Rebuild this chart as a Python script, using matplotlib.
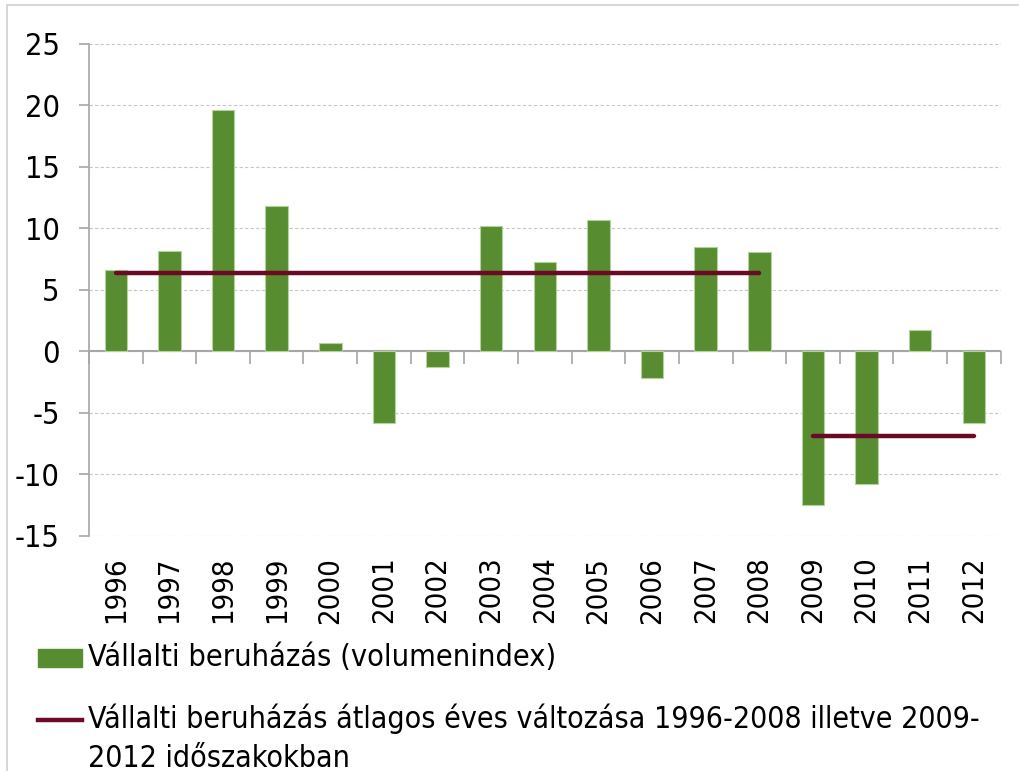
import matplotlib
matplotlib.use('Agg')
import matplotlib.pyplot as plt
from matplotlib.patches import Rectangle
from matplotlib.lines import Line2D
import numpy as np

years = ['1996', '1997', '1998', '1999', '2000', '2001', '2002', '2003', '2004',
         '2005', '2006', '2007', '2008', '2009', '2010', '2011', '2012']
investment = [6.6, 8.2, 19.6, 11.8, 0.7, -5.8, -1.3, 10.2, 7.3,
              10.7, -2.2, 8.5, 8.1, -12.5, -10.8, 1.7, -5.8]
# period averages: 1996-2008 and 2009-2012
avg_periods = [('1996', '2008'), ('2009', '2012')]
avg_values = [6.4, -6.9]

bar_label = 'Vállalti beruházás (volumenindex)'
line_label = 'Vállalti beruházás átlagos éves változása 1996-2008 illetve 2009-\n2012 időszakokban'

green = '#578C31'
maroon = '#6B0A25'
grey = '#A6A6A6'

plt.rcParams['font.family'] = ['DejaVu Sans']
plt.rcParams['font.stretch'] = 'condensed'
plt.rcParams['axes.unicode_minus'] = False

fig = plt.figure(figsize=(10.19, 7.71), dpi=100)
ax = fig.add_axes([0.0873, 0.305, 0.8947, 0.638])

x = np.arange(len(years))
ax.bar(x, investment, width=0.42, color=green, edgecolor='#B5D19C', linewidth=0.8, zorder=3)

for (start, end), val in zip(avg_periods, avg_values):
    i0, i1 = years.index(start), years.index(end)
    ax.plot([x[i0], x[i1]], [val, val], color=maroon, lw=3.2,
            solid_capstyle='round', zorder=4)

ax.set_xlim(-0.5, len(years) - 0.5)
ax.set_ylim(-15, 25)
ax.set_yticks(np.arange(-15, 26, 5))
ax.yaxis.grid(True, linestyle=(0, (3, 2)), color='#C8C8C8', linewidth=0.8, zorder=0)

for s in ['top', 'right', 'bottom']:
    ax.spines[s].set_visible(False)
ax.spines['left'].set_color(grey)
ax.spines['left'].set_linewidth(1.2)
ax.tick_params(axis='y', length=7, width=1.2, color=grey, labelsize=22, pad=14)

ax.set_xticks(x)
ax.set_xticklabels(years, rotation=90, fontsize=21)
ax.tick_params(axis='x', length=0, pad=15)

# zero line with boundary ticks
ax.axhline(0, color=grey, lw=1.5, zorder=2)
sec = ax.secondary_xaxis(15 / 40)
sec.set_xticks(np.arange(-0.5, len(years), 1.0))
sec.set_xticklabels([])
sec.spines['bottom'].set_visible(False)
sec.tick_params(axis='x', direction='out', length=9, width=1.2, color=grey)

# outer frame
fig.add_artist(Rectangle((7 / 1019, -0.1), 1.2, 1 - 5 / 771 + 0.1, transform=fig.transFigure,
                         fill=False, edgecolor='#D0D0D0', lw=1.2))

# legend
fig.add_artist(Rectangle((38 / 1019, 1 - 667 / 771), 44 / 1019, 18 / 771,
                         transform=fig.transFigure, color=green))
fig.text(88 / 1019, 1 - 658 / 771, bar_label, fontsize=22, va='center', ha='left')
fig.add_artist(Line2D([38 / 1019, 82 / 1019], [1 - 720 / 771, 1 - 720 / 771],
                      transform=fig.transFigure, color=maroon, lw=3.2))
fig.text(88 / 1019, 1 - 704 / 771, line_label, fontsize=21.7, va='top', ha='left',
         linespacing=1.4)

plt.savefig('out.png', dpi=100)
